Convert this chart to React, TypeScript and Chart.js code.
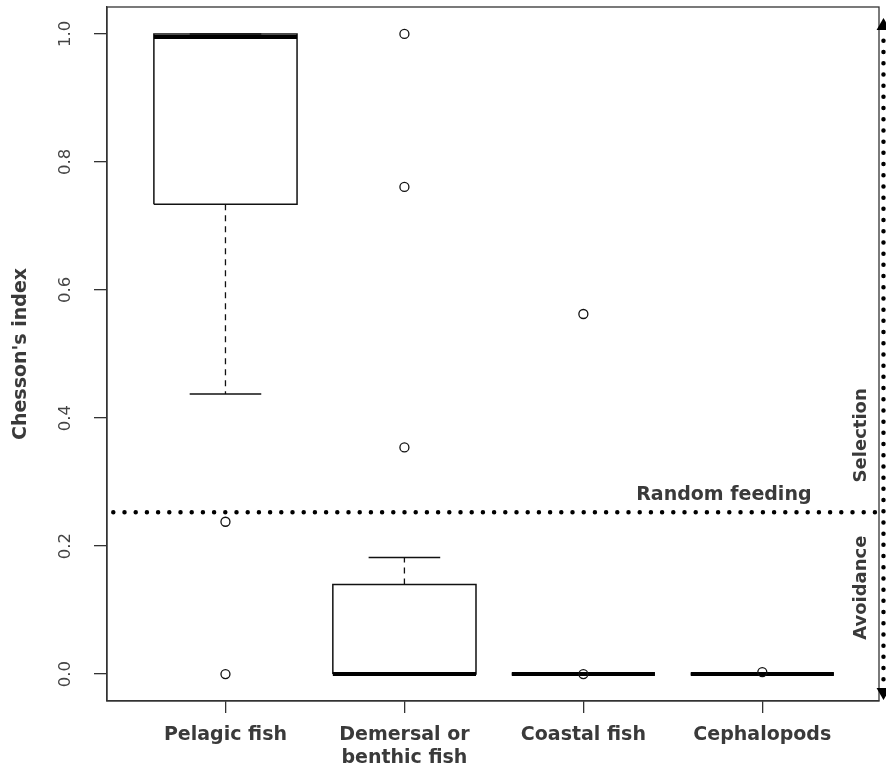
import { useEffect, useRef } from "react";
import { Chart, registerables } from "chart.js";

Chart.register(...registerables);

// ---- data ----
const categories = ["Pelagic fish", "Demersal or\nbenthic fish", "Coastal fish", "Cephalopods"];
const positions = [1, 2, 3, 4];
const lowerQuartile = [0.734, 0.0, 0.0, 0.0];
const medians = [0.995, 0.0, 0.0, 0.0];
const upperQuartile = [1.0, 0.14, 0.0, 0.0];
const lowerWhisker = [0.4375, 0.0, 0.0, 0.0];
const upperWhisker = [1.0, 0.182, 0.0, 0.0];
const outliers = [[0.238, 0.0], [1.0, 0.761, 0.354], [0.5625, 0.0], [0.003]];
const yTicks = [0, 0.2, 0.4, 0.6, 0.8, 1.0];
const randomFeeding = 0.253;

// axis ranges and annotation anchors (data space)
const xRange = [0.338, 4.652];
const yRange = [-0.042, 1.042];
const arrowX = 4.677;
const arrowY = [-0.028, 1.0125];
const randomLabel = { text: "Random feeding", x: 3.785, y: 0.272 };
const selectionLabel = { text: "Selection", x: 4.556, y: 0.373 };
const avoidanceLabel = { text: "Avoidance", x: 4.556, y: 0.135 };

// ---- style ----
const FONT = '"DejaVu Sans", "Liberation Sans", sans-serif';
const BOX_HALF = 0.4;
const CAP_HALF = 0.2;
const INK = "#111";
const AXIS = "#333";
const TEXT = "#3a3a3a";

const seg = (x1: number, y1: number, x2: number, y2: number, extra: any) => ({
  type: "line",
  data: [
    { x: x1, y: y1 },
    { x: x2, y: y2 },
  ],
  showLine: true,
  pointRadius: 0,
  borderColor: INK,
  backgroundColor: INK,
  fill: false,
  tension: 0,
  ...extra,
});

function buildDatasets() {
  const top: any[] = [];
  const medianSets: any[] = [];
  const boxSets: any[] = [];
  const whiskerSets: any[] = [];

  // outliers
  const outlierPts: { x: number; y: number }[] = [];
  outliers.forEach((vals, i) => vals.forEach((v) => outlierPts.push({ x: positions[i], y: v })));
  top.push({
    type: "scatter",
    data: outlierPts,
    showLine: false,
    pointRadius: 4.5,
    pointHoverRadius: 4.5,
    pointBorderWidth: 1.3,
    pointBorderColor: INK,
    pointBackgroundColor: "rgba(0,0,0,0)",
  });

  // arrow heads
  top.push({
    type: "scatter",
    data: [
      { x: arrowX, y: arrowY[1] },
      { x: arrowX, y: arrowY[0] },
    ],
    showLine: false,
    pointStyle: "triangle",
    pointRadius: 8,
    pointHoverRadius: 8,
    pointRotation: [0, 180],
    pointBorderWidth: 0,
    pointBackgroundColor: "#000",
    pointBorderColor: "#000",
    clip: false,
  });

  // vertical dotted arrow shaft
  top.push(
    seg(arrowX, arrowY[0] + 0.02, arrowX, arrowY[1] - 0.02, {
      borderColor: "#000",
      borderWidth: 4.5,
      borderDash: [0, 11.2],
      borderCapStyle: "round",
      clip: false,
    })
  );

  // random feeding dotted line
  top.push(
    seg(xRange[0], randomFeeding, xRange[1], randomFeeding, {
      borderColor: "#000",
      borderWidth: 4.5,
      borderDash: [0, 11.2],
      borderDashOffset: 4.9,
      borderCapStyle: "round",
    })
  );

  positions.forEach((p, i) => {
    medianSets.push(
      seg(p - BOX_HALF, medians[i], p + BOX_HALF, medians[i], {
        borderWidth: 4,
        borderCapStyle: "butt",
        borderColor: "#000",
      })
    );
    boxSets.push({
      type: "line",
      data: [
        { x: p - BOX_HALF, y: lowerQuartile[i] },
        { x: p + BOX_HALF, y: lowerQuartile[i] },
        { x: p + BOX_HALF, y: upperQuartile[i] },
        { x: p - BOX_HALF, y: upperQuartile[i] },
        { x: p - BOX_HALF, y: lowerQuartile[i] },
      ],
      showLine: true,
      pointRadius: 0,
      borderColor: INK,
      borderWidth: 1.5,
      borderJoinStyle: "miter",
      fill: false,
      tension: 0,
    });
    if (upperWhisker[i] > upperQuartile[i]) {
      whiskerSets.push(
        seg(p, upperQuartile[i], p, upperWhisker[i], { borderWidth: 1.3, borderDash: [6, 5] })
      );
    }
    if (lowerWhisker[i] < lowerQuartile[i]) {
      whiskerSets.push(
        seg(p, lowerQuartile[i], p, lowerWhisker[i], { borderWidth: 1.3, borderDash: [6, 5] })
      );
    }
    whiskerSets.push(seg(p - CAP_HALF, upperWhisker[i], p + CAP_HALF, upperWhisker[i], { borderWidth: 1.5 }));
    whiskerSets.push(seg(p - CAP_HALF, lowerWhisker[i], p + CAP_HALF, lowerWhisker[i], { borderWidth: 1.5 }));
  });

  return [...top, ...medianSets, ...boxSets, ...whiskerSets];
}

const annotationPlugin = {
  id: "annotations",
  beforeDatasetsDraw(chart: any) {
    const { ctx, chartArea } = chart;
    ctx.save();
    ctx.strokeStyle = AXIS;
    ctx.lineWidth = 1.3;
    ctx.strokeRect(
      chartArea.left,
      chartArea.top,
      chartArea.right - chartArea.left,
      chartArea.bottom - chartArea.top
    );
    ctx.restore();
  },
  afterDraw(chart: any) {
    const { ctx, scales } = chart;
    const xs = scales.x;
    const ys = scales.y;
    ctx.save();
    ctx.fillStyle = TEXT;
    ctx.font = `bold 19px ${FONT}`;
    ctx.textAlign = "center";
    ctx.textBaseline = "alphabetic";
    ctx.fillText(randomLabel.text, xs.getPixelForValue(randomLabel.x), ys.getPixelForValue(randomLabel.y));

    ctx.font = `bold 18px ${FONT}`;
    ctx.textBaseline = "middle";
    [selectionLabel, avoidanceLabel].forEach((l) => {
      ctx.save();
      ctx.translate(xs.getPixelForValue(l.x), ys.getPixelForValue(l.y));
      ctx.rotate(-Math.PI / 2);
      ctx.fillText(l.text, 0, 0);
      ctx.restore();
    });
    ctx.restore();
  },
};

export default function App() {
  const ref = useRef<HTMLCanvasElement | null>(null);

  useEffect(() => {
    if (!ref.current) return;
    const chart = new Chart(ref.current, {
      type: "scatter",
      data: { datasets: buildDatasets() as any },
      options: {
        animation: false,
        responsive: false,
        maintainAspectRatio: false,
        devicePixelRatio: 1,
        events: [],
        layout: { padding: { top: 7, right: 7, bottom: 0, left: 0 }, autoPadding: false },
        plugins: { legend: { display: false }, tooltip: { enabled: false } },
        scales: {
          x: {
            type: "linear",
            min: xRange[0],
            max: xRange[1],
            afterBuildTicks: (s: any) => {
              s.ticks = positions.map((v) => ({ value: v }));
            },
            afterFit: (s: any) => {
              s.height = 68;
              s.paddingLeft = 0;
              s.paddingRight = 0;
            },
            ticks: {
              autoSkip: false,
              minRotation: 0,
              maxRotation: 0,
              padding: 11,
              color: TEXT,
              font: { family: FONT, size: 19, weight: "bold", lineHeight: 1.2 },
              callback: (v: any) => {
                const i = positions.indexOf(Number(v));
                return i >= 0 ? categories[i].split("\n") : "";
              },
            },
            grid: { drawOnChartArea: false, drawTicks: true, tickLength: 12, color: AXIS, lineWidth: 1.3 },
            border: { display: true, color: AXIS, width: 1.3 },
          },
          y: {
            type: "linear",
            min: yRange[0],
            max: yRange[1],
            afterBuildTicks: (s: any) => {
              s.ticks = yTicks.map((v) => ({ value: v }));
            },
            afterFit: (s: any) => {
              s.width = 107;
              s.paddingTop = 0;
              s.paddingBottom = 0;
            },
            ticks: {
              autoSkip: false,
              minRotation: 90,
              maxRotation: 90,
              crossAlign: "center",
              padding: 15,
              color: "#444",
              font: { family: FONT, size: 16.5 },
              callback: (v: any) => Number(v).toFixed(1),
            },
            grid: { drawOnChartArea: false, drawTicks: true, tickLength: 13, color: AXIS, lineWidth: 1.3 },
            border: { display: true, color: AXIS, width: 1.3 },
            title: {
              display: true,
              text: "Chesson's index",
              color: TEXT,
              font: { family: FONT, size: 19, weight: "bold", lineHeight: 1.2 },
              padding: { top: 10, bottom: 0 },
            },
          },
        },
      },
      plugins: [annotationPlugin],
    } as any);
    return () => chart.destroy();
  }, []);

  return (
    <div style={{ position: "absolute", left: 0, top: 0, width: 886, height: 769, background: "#fff" }}>
      <canvas ref={ref} width={886} height={769} style={{ width: 886, height: 769, display: "block" }} />
    </div>
  );
}
